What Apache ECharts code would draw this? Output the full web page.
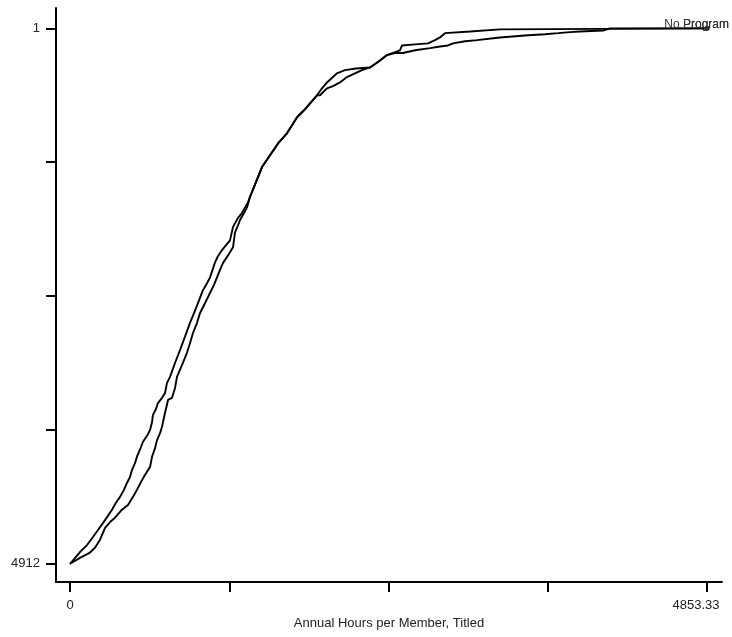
<!DOCTYPE html>
<html>
<head>
<meta charset="utf-8">
<script src="https://cdn.jsdelivr.net/npm/echarts@6/dist/echarts.min.js"></script>
<style>
  html, body { margin: 0; padding: 0; background: #fff; }
  #chart { width: 732px; height: 637px; }
</style>
</head>
<body>
<div id="chart"></div>
<script>
// curve: hours, cumulative share
var noProgramHours = [0, 76, 130, 175, 213, 251, 290, 320, 350, 381, 411, 434, 457, 472, 495, 510, 533, 556, 587, 610,
    625, 632, 655, 670, 701, 724, 739, 762, 800, 838, 876, 914, 945, 975, 1013, 1044, 1067, 1105, 1128, 1158,
    1189, 1219, 1242, 1280, 1310, 1356, 1371, 1417, 1463, 1524, 1585, 1653, 1730, 1783, 1829, 1882, 1920, 1958, 2034, 2095,
    2179, 2286, 2362, 2415, 2514, 2530, 2629, 2728, 2781, 2819, 2857, 3048, 3276, 4853.33];
var noProgramShare = [0, 0.022, 0.035, 0.050, 0.063, 0.076, 0.090, 0.101, 0.114, 0.125, 0.138, 0.151, 0.162, 0.175, 0.188, 0.200, 0.213, 0.228, 0.239, 0.250,
    0.265, 0.278, 0.289, 0.300, 0.310, 0.319, 0.338, 0.349, 0.375, 0.399, 0.424, 0.450, 0.468, 0.487, 0.511, 0.524, 0.535, 0.563, 0.575, 0.586,
    0.595, 0.604, 0.629, 0.646, 0.655, 0.675, 0.685, 0.713, 0.741, 0.763, 0.785, 0.804, 0.834, 0.847, 0.860, 0.875, 0.888, 0.899, 0.916, 0.922,
    0.925, 0.927, 0.940, 0.950, 0.959, 0.968, 0.970, 0.972, 0.978, 0.983, 0.991, 0.994, 0.998, 1];

var programHours = [0, 76, 152, 190, 229, 267, 305, 343, 396, 442, 480, 510, 541, 571, 610, 625, 648, 663, 686, 701,
    724, 747, 777, 800, 815, 853, 891, 914, 937, 968, 990, 1029, 1067, 1097, 1120, 1143, 1166, 1204, 1242, 1257,
    1280, 1295, 1326, 1349, 1371, 1417, 1463, 1524, 1585, 1653, 1730, 1783, 1829, 1882, 1905, 1958, 2004, 2057, 2110, 2171,
    2225, 2286, 2362, 2415, 2476, 2537, 2629, 2743, 2819, 2880, 2918, 3010, 3101, 3276, 3490, 3619, 3718, 3810, 3886, 4061,
    4114, 4853.33];
var programShare = [0, 0.011, 0.021, 0.030, 0.045, 0.067, 0.078, 0.086, 0.101, 0.110, 0.125, 0.138, 0.153, 0.166, 0.181, 0.200, 0.216, 0.231, 0.244, 0.256,
    0.282, 0.306, 0.310, 0.328, 0.349, 0.371, 0.394, 0.412, 0.431, 0.450, 0.468, 0.487, 0.506, 0.521, 0.535, 0.549, 0.562, 0.576, 0.591, 0.619,
    0.632, 0.642, 0.655, 0.666, 0.685, 0.713, 0.741, 0.763, 0.785, 0.804, 0.834, 0.847, 0.860, 0.875, 0.875, 0.888, 0.892, 0.899, 0.909, 0.916,
    0.922, 0.927, 0.940, 0.950, 0.954, 0.954, 0.959, 0.963, 0.966, 0.968, 0.972, 0.976, 0.978, 0.983, 0.987, 0.989, 0.991, 0.993, 0.994, 0.996,
    1, 1];

var xTicks = [0, 1213.33, 2426.67, 3640, 4853.33];
var xTickLabels = ['0', '', '', '', '4853.33'];
var yTicks = [0, 0.25, 0.5, 0.75, 1];
var yTickLabels = ['4912', '', '', '', '1'];

function toPoints(xs, ys, name) {
    var pts = xs.map(function (x, i) { return [x, ys[i]]; });
    // last point carries the marker and the series label
    var last = pts.length - 1;
    pts[last] = {
        value: pts[last],
        symbol: 'circle',
        symbolSize: 5,
        itemStyle: { color: '#333' },
        label: {
            show: true,
            formatter: name,
            position: 'inside',
            align: 'right',
            verticalAlign: 'middle',
            offset: [22, -4],
            fontSize: 12,
            color: '#333',
            fontFamily: 'Liberation Sans'
        }
    };
    return pts;
}

var chart = echarts.init(document.getElementById('chart'));

var axisLineStyle = { show: true, onZero: false, lineStyle: { color: '#000', width: 2 } };
var labelStyle = { color: '#222', fontSize: 13, fontFamily: 'Liberation Sans' };

var option = {
    animation: false,
    backgroundColor: '#fff',
    grid: { left: 56, right: 10, top: 8, bottom: 55, containLabel: false },
    xAxis: {
        type: 'value',
        min: -106.7,
        max: 4967.6,
        name: 'Annual Hours per Member, Titled',
        nameLocation: 'middle',
        nameGap: 33,
        nameTextStyle: { color: '#222', fontSize: 13, fontFamily: 'Liberation Sans' },
        axisLine: axisLineStyle,
        splitLine: { show: false },
        axisTick: { show: true, length: 10, customValues: xTicks, lineStyle: { color: '#000', width: 2 } },
        axisLabel: Object.assign({}, labelStyle, {
            margin: 17,
            customValues: [xTicks[0], xTicks[4]],
            formatter: function (v) {
                var t = xTickLabels[xTicks.indexOf(v)] || '';
                // last label sits inside the axis end
                return v === xTicks[4] ? '{end|' + t + '}' : t;
            },
            rich: { end: { color: '#222', fontSize: 13, fontFamily: 'Liberation Sans', padding: [0, 22, 0, 0] } }
        })
    },
    yAxis: {
        type: 'value',
        min: -0.034,
        max: 1.038,
        axisLine: axisLineStyle,
        splitLine: { show: false },
        axisTick: { show: true, length: 10, customValues: yTicks, lineStyle: { color: '#000', width: 2 } },
        axisLabel: Object.assign({}, labelStyle, {
            margin: 16,
            customValues: [yTicks[0], yTicks[4]],
            formatter: function (v) { return yTickLabels[yTicks.indexOf(v)] || ''; }
        })
    },
    series: [{
        name: 'No Program',
        type: 'line',
        showSymbol: true,
        symbol: 'none',
        lineStyle: { color: '#000', width: 1.9 },
        itemStyle: { color: '#000' },
        data: toPoints(noProgramHours, noProgramShare, 'No Program')
    }, {
        name: 'Program',
        type: 'line',
        showSymbol: true,
        symbol: 'none',
        lineStyle: { color: '#000', width: 1.9 },
        itemStyle: { color: '#000' },
        data: toPoints(programHours, programShare, 'Program')
    }]
};

chart.setOption(option);
</script>
</body>
</html>
